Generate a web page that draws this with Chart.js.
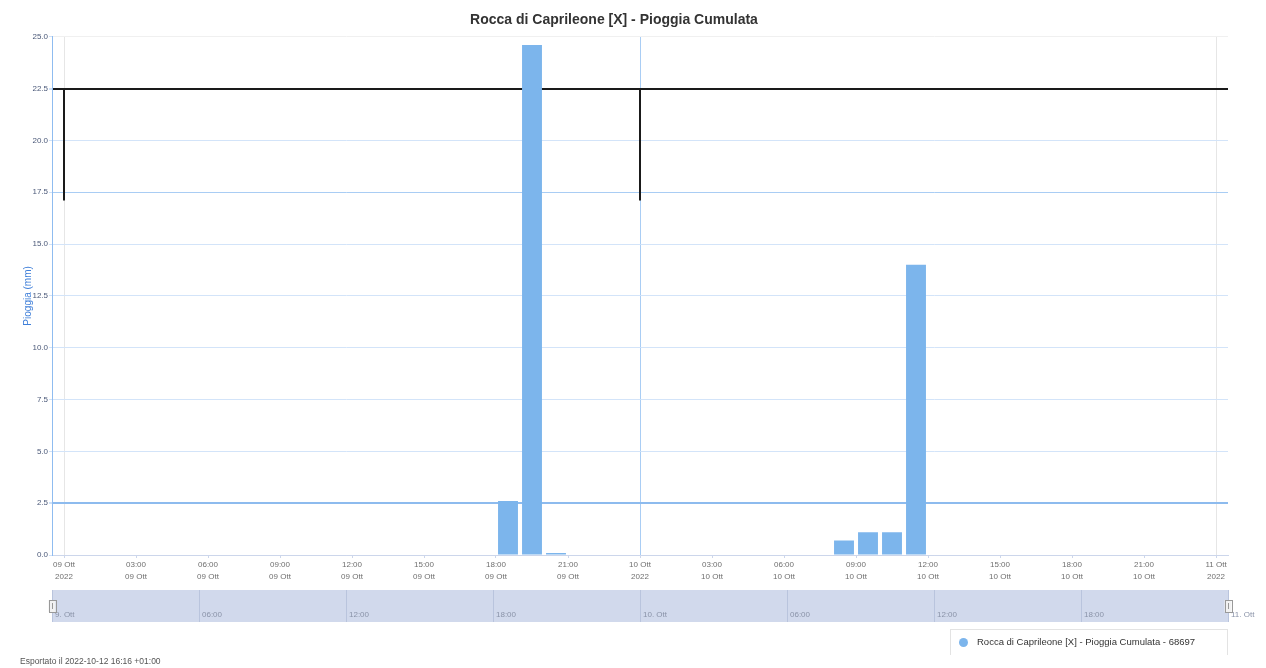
<!DOCTYPE html>
<html lang="it">
<head>
<meta charset="utf-8">
<title>Rocca di Caprileone [X] - Pioggia Cumulata</title>
<script src="https://cdn.jsdelivr.net/npm/chart.js@4.4.0/dist/chart.umd.min.js"></script>
<style>
  html, body { margin: 0; padding: 0; background: #fff; }
  #wrap { position: relative; width: 1266px; height: 668px; font-family: 'Liberation Sans', Arial, sans-serif; }
  #pioggiaChart { position: absolute; left: 0; top: 0; }
  #navChart { position: absolute; left: 0; top: 585px; }
  .legenda {
    position: absolute; left: 950px; top: 629px; width: 278px; height: 26px;
    box-sizing: border-box; border: 1px solid #e3e3e3; border-bottom: none;
    font-size: 9.5px; color: #333; line-height: 24px; padding-left: 26px;
  }
  .legenda .dot {
    position: absolute; left: 8px; top: 8px; width: 9px; height: 9px;
    border-radius: 50%; background: #7cb5ec;
  }
  .export { position: absolute; left: 20px; top: 656px; font-size: 8.5px; color: #555; }
</style>
</head>
<body>
<div id="wrap">
  <canvas id="pioggiaChart" width="1266" height="668" style="width:1266px;height:668px"></canvas>
  <canvas id="navChart" width="1266" height="45" style="width:1266px;height:45px"></canvas>
  <div class="legenda"><span class="dot"></span>Rocca di Caprileone [X] - Pioggia Cumulata - 68697</div>
  <div class="export">Esportato il 2022-10-12 16:16 +01:00</div>
</div>
<script>
Chart.defaults.font.family = "'Liberation Sans', Arial, sans-serif";

// ore dall'inizio del 09 Ott 2022 (centro della colonna)
const ore = [18.5, 19.5, 20.5, 32.5, 33.5, 34.5, 35.5];
// pioggia cumulata oraria (mm)
const pioggia = [2.6, 24.6, 0.1, 0.7, 1.1, 1.1, 14.0];

// asse x principale: un tick ogni 3 ore
const xTickOre = [0, 3, 6, 9, 12, 15, 18, 21, 24, 27, 30, 33, 36, 39, 42, 45, 48];
const xTickEtichette = [
  ['09 Ott', '2022'], ['03:00', '09 Ott'], ['06:00', '09 Ott'], ['09:00', '09 Ott'],
  ['12:00', '09 Ott'], ['15:00', '09 Ott'], ['18:00', '09 Ott'], ['21:00', '09 Ott'],
  ['10 Ott', '2022'], ['03:00', '10 Ott'], ['06:00', '10 Ott'], ['09:00', '10 Ott'],
  ['12:00', '10 Ott'], ['15:00', '10 Ott'], ['18:00', '10 Ott'], ['21:00', '10 Ott'],
  ['11 Ott', '2022']
];
const yTicks = [0, 2.5, 5, 7.5, 10, 12.5, 15, 17.5, 20, 22.5, 25];

// navigatore: un tick ogni 6 ore
const navTickOre = [0, 6, 12, 18, 24, 30, 36, 42, 48];
const navEtichette = ['9. Ott', '06:00', '12:00', '18:00', '10. Ott', '06:00', '12:00', '18:00', '11. Ott'];

// segmenti neri presenti nell'immagine originale (artefatto dell'export)
const segmentiOre = [0, 24];

const glitchPlugin = {
  id: 'glitch',
  beforeDatasetsDraw(chart) {
    const { ctx, scales: { x, y } } = chart;
    ctx.save();
    ctx.strokeStyle = '#1a1a1a';
    ctx.lineWidth = 2;
    segmentiOre.forEach(h => {
      const px = x.getPixelForValue(h);
      ctx.beginPath();
      ctx.moveTo(px, y.getPixelForValue(22.5));
      ctx.lineTo(px, y.getPixelForValue(17.1));
      ctx.stroke();
    });
    ctx.restore();
  }
};

function coloreGrigliaY(c) {
  const v = c.tick.value;
  if (v === 22.5) return '#1a1a1a';
  if (v === 2.5) return '#8dbbee';
  if (v === 17.5) return '#a9cdf4';
  if (v === 25) return '#f0f0f0';
  if (v === 0) return '#ccd6eb';
  return '#d3e4f9';
}

function spessoreGrigliaY(c) {
  const v = c.tick.value;
  if (v === 22.5 || v === 2.5) return 2;
  return 1;
}

function coloreGrigliaX(c) {
  const v = c.tick.value;
  if (v === 24) return '#a9cdf4';
  if (v === 0 || v === 48) return '#e6e6e6';
  return 'rgba(0,0,0,0)';
}

const pioggiaCtx = document.getElementById('pioggiaChart').getContext('2d');
const pioggiaChart = new Chart(pioggiaCtx, {
  type: 'bar',
  data: {
    datasets: [{
      label: 'Rocca di Caprileone [X] - Pioggia Cumulata - 68697',
      data: ore.map((h, i) => ({ x: h, y: pioggia[i] })),
      backgroundColor: '#7cb5ec',
      barPercentage: 0.83,
      categoryPercentage: 1
    }]
  },
  options: {
    responsive: false,
    animation: false,
    layout: { padding: { left: 0, right: 38, top: 0, bottom: 0 } },
    plugins: {
      legend: { display: false },
      tooltip: { enabled: false },
      title: {
        display: true,
        text: 'Rocca di Caprileone [X] - Pioggia Cumulata',
        color: '#333',
        font: { size: 14, weight: 'bold' },
        padding: { top: 12, bottom: 8 }
      }
    },
    scales: {
      x: {
        type: 'linear',
        min: -0.5,
        max: 48.5,
        offset: false,
        afterFit: s => { s.height = 113; },
        afterBuildTicks: s => { s.ticks = xTickOre.map(v => ({ value: v })); },
        border: { color: '#ccd6eb' },
        grid: { offset: false, color: coloreGrigliaX, tickColor: '#ccd6eb', tickLength: 3 },
        ticks: {
          autoSkip: false,
          maxRotation: 0,
          padding: 0,
          color: '#6f6f6f',
          font: { size: 8, lineHeight: 1.6 },
          callback: (v, i) => xTickEtichette[i]
        }
      },
      y: {
        min: 0,
        max: 25,
        afterFit: s => { s.width = 52; },
        afterBuildTicks: s => { s.ticks = yTicks.map(v => ({ value: v })); },
        border: { color: '#8fbcf0' },
        grid: { color: coloreGrigliaY, lineWidth: spessoreGrigliaY, tickLength: 3, tickColor: '#cfe1f8' },
        ticks: { padding: 1, color: '#4a5878', font: { size: 8 }, callback: v => v.toFixed(1) },
        title: {
          display: true,
          text: 'Pioggia (mm)',
          color: '#3f7fd9',
          font: { size: 10 },
          padding: { top: 22, bottom: 0 }
        }
      }
    }
  },
  plugins: [glitchPlugin]
});

// navigatore sotto il grafico: banda, etichette e maniglie
const navPlugin = {
  id: 'navBand',
  beforeDraw(chart) {
    const { ctx, chartArea: a } = chart;
    ctx.save();
    ctx.fillStyle = '#d1d9ec';
    ctx.fillRect(a.left, a.top, a.right - a.left, a.bottom - a.top);
    ctx.restore();
  },
  afterDraw(chart) {
    const { ctx, chartArea: a, scales: { x } } = chart;
    const cy = (a.top + a.bottom) / 2;
    ctx.save();
    ctx.font = "8px 'Liberation Sans', Arial, sans-serif";
    ctx.fillStyle = '#8a93a8';
    ctx.textAlign = 'left';
    ctx.textBaseline = 'middle';
    navTickOre.forEach((h, i) => {
      ctx.fillText(navEtichette[i], x.getPixelForValue(h) + 3, a.bottom - 7);
    });
    [a.left, a.right].forEach(px => {
      ctx.fillStyle = '#f2f2f2';
      ctx.strokeStyle = '#999';
      ctx.lineWidth = 1;
      ctx.fillRect(px - 3.5, cy - 6, 7, 12);
      ctx.strokeRect(Math.round(px - 3.5) + 0.5, Math.round(cy - 6) + 0.5, 7, 12);
      ctx.beginPath();
      ctx.moveTo(Math.round(px) + 0.5, cy - 3);
      ctx.lineTo(Math.round(px) + 0.5, cy + 3);
      ctx.stroke();
    });
    ctx.restore();
  }
};

const navCtx = document.getElementById('navChart').getContext('2d');
const navChart = new Chart(navCtx, {
  type: 'bar',
  data: { datasets: [{ data: [] }] },
  options: {
    responsive: false,
    animation: false,
    layout: { padding: { left: 52, right: 38, top: 5, bottom: 0 } },
    plugins: { legend: { display: false }, tooltip: { enabled: false } },
    scales: {
      x: {
        type: 'linear',
        min: 0,
        max: 48,
        offset: false,
        afterFit: s => { s.height = 8; },
        afterBuildTicks: s => { s.ticks = navTickOre.map(v => ({ value: v })); },
        border: { display: false },
        grid: { offset: false, drawTicks: false, color: '#b9c4dd' },
        ticks: { display: false }
      },
      y: { display: false, min: 0, max: 1 }
    }
  },
  plugins: [navPlugin]
});
</script>
</body>
</html>
